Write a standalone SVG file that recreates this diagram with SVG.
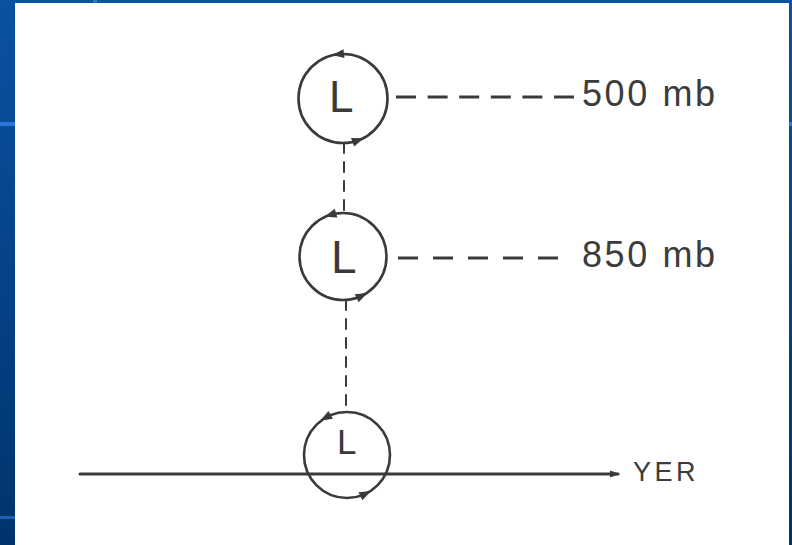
<svg xmlns="http://www.w3.org/2000/svg" width="792" height="545" viewBox="0 0 792 545">
  <defs>
    <linearGradient id="slideBg" x1="0" y1="0" x2="0" y2="1">
      <stop offset="0" stop-color="#0a52a2"/>
      <stop offset="1" stop-color="#00336c"/>
    </linearGradient>
    <path id="tip" d="M6,0 L-6,-4.5 L-6,4.5 Z"/>
    <marker id="axisHead" markerWidth="10" markerHeight="8" refX="8" refY="4" orient="auto" markerUnits="userSpaceOnUse">
      <path d="M0,0.5 L10,4 L0,7.5 Z" fill="#3a3a3a"/>
    </marker>
    <style>
      .ink { stroke: #3a3a3a; fill: none; stroke-linecap: round; }
      .ring { stroke-width: 2.6; }
      .vdash { stroke-width: 2; stroke-dasharray: 10 9; }
      .hdash { stroke-width: 3.2; stroke-linecap: butt; }
      .head { fill: #3a3a3a; }
      .lbl { font-family: "Liberation Sans", "DejaVu Sans", sans-serif; fill: #3c3c3c; }
      .low { font-family: "Liberation Sans", "DejaVu Sans", sans-serif; fill: #3a3a3a; }
    </style>
  </defs>

  <!-- slide frame and paper -->
  <rect x="0" y="0" width="792" height="545" fill="url(#slideBg)"/>
  <rect x="0" y="122" width="15" height="4" fill="#2a78d6"/>
  <rect x="0" y="516" width="15" height="3" fill="#1d5fb0"/>
  <rect x="93" y="0" width="4" height="3" fill="#2a78d6"/>
  <rect x="789" y="122" width="3" height="4" fill="#2a78d6"/>
  <rect x="15" y="3" width="774" height="542" fill="#ffffff"/>

  <!-- connectors -->
  <g id="connectors">
    <line class="ink vdash" x1="344" y1="143" x2="344" y2="212"/>
    <line class="ink vdash" x1="346" y1="300" x2="346" y2="411"/>
    <line class="ink hdash" x1="396" y1="97" x2="574" y2="97" stroke-dasharray="20 11.6"/>
    <line class="ink hdash" x1="398" y1="258" x2="558" y2="258" stroke-dasharray="20 15"/>
    <line class="ink" x1="80" y1="474" x2="618" y2="474" stroke-width="3" marker-end="url(#axisHead)"/>
  </g>

  <!-- low at 500 mb -->
  <g id="low500">
    <circle class="ink ring" cx="343" cy="98.5" r="44.5"/>
    <use href="#tip" class="head" transform="translate(338,54.3) rotate(173.5)"/>
    <use href="#tip" class="head" transform="translate(358.2,140.3) rotate(-20)"/>
    <text class="low" x="329" y="112" font-size="44">L</text>
  </g>

  <!-- low at 850 mb -->
  <g id="low850">
    <circle class="ink ring" cx="343" cy="256.5" r="43.5"/>
    <use href="#tip" class="head" transform="translate(330.3,214.9) rotate(163)"/>
    <use href="#tip" class="head" transform="translate(362.1,295.6) rotate(-26)"/>
    <text class="low" x="331" y="273" font-size="46">L</text>
  </g>

  <!-- low at the surface -->
  <g id="lowSurface">
    <circle class="ink ring" cx="347" cy="455" r="43"/>
    <use href="#tip" class="head" transform="translate(325.5,417.8) rotate(150)"/>
    <use href="#tip" class="head" transform="translate(365.8,493.7) rotate(-26)"/>
    <text class="low" x="337" y="454" font-size="35">L</text>
  </g>

  <!-- level labels -->
  <g id="label500">
    <text class="lbl" x="582" y="106" font-size="36" letter-spacing="2.6">500 mb</text>
  </g>
  <g id="label850">
    <text class="lbl" x="582" y="267" font-size="36" letter-spacing="2.6">850 mb</text>
  </g>
  <g id="labelYer">
    <text class="lbl" x="633" y="481" font-size="27" letter-spacing="3.5">YER</text>
  </g>
</svg>
